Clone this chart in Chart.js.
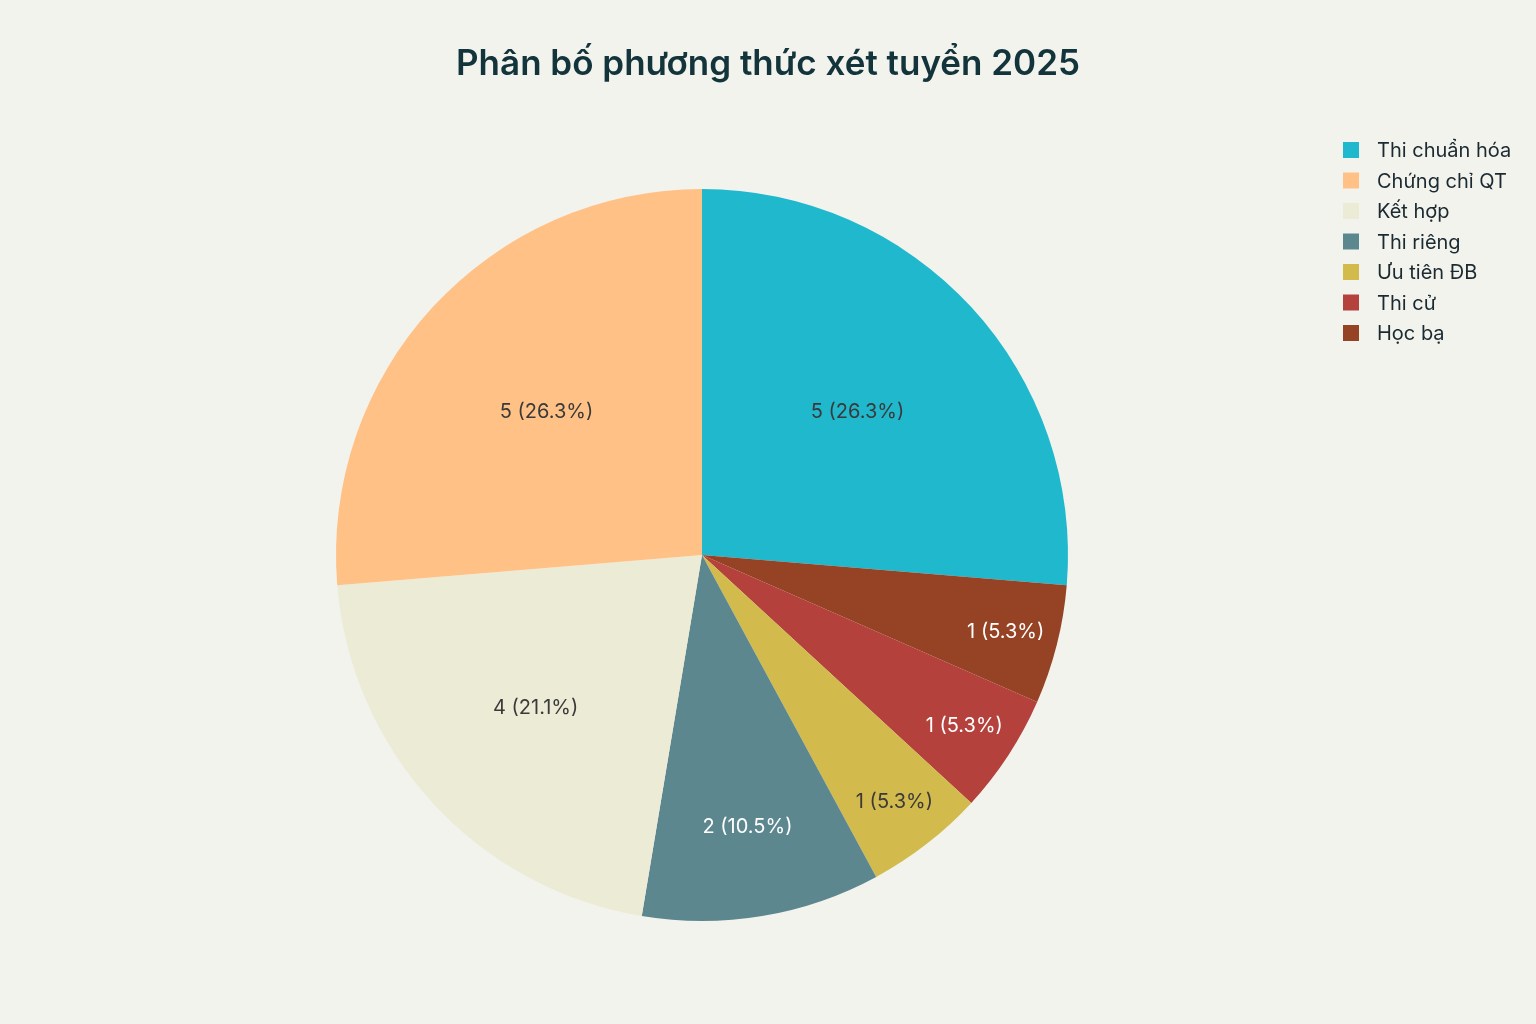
<!DOCTYPE html>
<html>
<head>
<meta charset="utf-8">
<script src="https://cdn.jsdelivr.net/npm/chart.js@4.4.1/dist/chart.umd.min.js"></script>
<style>
  html, body { margin: 0; padding: 0; background: #f3f3ee; }
  #wrap { width: 1536px; height: 1024px; }
</style>
</head>
<body>
<div id="wrap"><canvas id="pie-chart" width="1536" height="1024"></canvas></div>
<script>
// slices in clockwise order from 12 o'clock
var categories = ['Thi chuẩn hóa', 'Học bạ', 'Thi cử', 'Ưu tiên ĐB', 'Thi riêng', 'Kết hợp', 'Chứng chỉ QT'];
var counts = [5, 1, 1, 1, 2, 4, 5];
var colors = ['#1FB8CD', '#964325', '#B4413C', '#D2BA4C', '#5D878F', '#ECEBD5', '#FFC185'];
var legendOrder = ['Thi chuẩn hóa', 'Chứng chỉ QT', 'Kết hợp', 'Thi riêng', 'Ưu tiên ĐB', 'Thi cử', 'Học bạ'];

var FONT = 'Inter, "Noto Sans", sans-serif';
var total = counts.reduce(function (a, b) { return a + b; }, 0);

function isDark(hex) {
  var r = parseInt(hex.substr(1, 2), 16), g = parseInt(hex.substr(3, 2), 16), b = parseInt(hex.substr(5, 2), 16);
  return (0.299 * r + 0.587 * g + 0.114 * b) < 140;
}

// where inside the slice the text goes, by slice size in degrees
function labelRadius(deg) {
  var pts = [[0, 0.86], [19, 0.856], [38, 0.754], [76, 0.617], [95, 0.577], [360, 0.5]];
  for (var i = 1; i < pts.length; i++) {
    if (deg <= pts[i][0]) {
      var t = (deg - pts[i - 1][0]) / (pts[i][0] - pts[i - 1][0]);
      return pts[i - 1][1] + t * (pts[i][1] - pts[i - 1][1]);
    }
  }
  return 0.5;
}

var decorations = {
  id: 'decorations',
  beforeDraw: function (chart) {
    var c = chart.ctx;
    c.save();
    c.fillStyle = '#f3f3ee';
    c.fillRect(0, 0, chart.width, chart.height);
    c.restore();
  },
  afterDraw: function (chart) {
    var c = chart.ctx;
    c.save();

    // title
    c.fillStyle = '#13343B';
    c.font = '600 35px ' + FONT;
    c.textAlign = 'center';
    c.textBaseline = 'middle';
    c.fillText('Phân bố phương thức xét tuyển 2025', 768, 64);

    // slice labels
    var meta = chart.getDatasetMeta(0);
    c.font = '20px ' + FONT;
    meta.data.forEach(function (arc, i) {
      var p = arc.getProps(['x', 'y', 'startAngle', 'endAngle', 'outerRadius'], true);
      var span = p.endAngle - p.startAngle;
      var mid = p.startAngle + span / 2;
      var r = p.outerRadius * labelRadius(span * 180 / Math.PI);
      var pct = (counts[i] / total * 100).toFixed(1);
      c.fillStyle = isDark(colors[i]) ? '#ffffff' : '#3a3a3a';
      c.fillText(counts[i] + ' (' + pct + '%)', p.x + Math.cos(mid) * r, p.y + Math.sin(mid) * r);
    });

    // legend
    c.textAlign = 'left';
    legendOrder.forEach(function (name, k) {
      var i = categories.indexOf(name);
      var y = 150 + k * 30.5;
      c.fillStyle = colors[i];
      c.fillRect(1343, y - 8, 16, 16);
      c.fillStyle = '#1a2a30';
      c.font = '20px ' + FONT;
      c.fillText(name, 1377, y + 1);
    });

    c.restore();
  }
};

var config = {
  type: 'pie',
  data: {
    labels: categories,
    datasets: [
      {
        data: counts,
        backgroundColor: colors,
        borderWidth: 0
      }
    ]
  },
  options: {
    responsive: false,
    animation: false,
    layout: {
      padding: { top: 189, bottom: 103, left: 336, right: 468 }
    },
    plugins: {
      legend: { display: false },
      title: { display: false },
      tooltip: { enabled: false }
    }
  },
  plugins: [decorations]
};

var ctx = document.getElementById('pie-chart').getContext('2d');
var pieChart = new Chart(ctx, config);
</script>
</body>
</html>
